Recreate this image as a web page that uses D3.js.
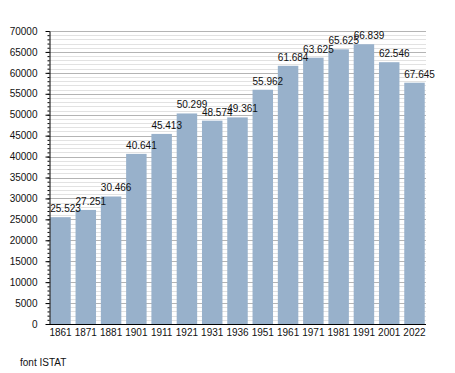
<!DOCTYPE html>
<html>
<head>
<meta charset="utf-8">
<script src="https://cdn.jsdelivr.net/npm/d3@7"></script>
<style>
  body { margin: 0; background: #fff; }
  svg { font-family: "Liberation Sans", Arial, sans-serif; }
</style>
</head>
<body>
<div id="chart"></div>
<script>
    const years = ["1861", "1871", "1881", "1901", "1911", "1921", "1931", "1936", "1951", "1961", "1971", "1981", "1991", "2001", "2022"];
    const population = [25523, 27251, 30466, 40641, 45413, 50299, 48574, 49361, 55962, 61684, 63625, 65625, 66839, 62546, 57645];
    // labels as printed in the source (last one differs from its bar)
    const labels = ["25.523", "27.251", "30.466", "40.641", "45.413", "50.299", "48.574", "49.361", "55.962", "61.684", "63.625", "65.625", "66.839", "62.546", "67.645"];
    const majorTicks = d3.range(0, 70001, 5000);
    const minorTicks = d3.range(0, 70001, 1000);

    const width = 455, height = 373;
    const margin = { left: 49, right: 29, top: 31, bottom: 49 };
    const svg = d3.select("#chart")
        .append("svg")
        .attr("width", width)
        .attr("height", height);

    const x = d3.scaleBand()
        .domain(years)
        .range([margin.left, width - margin.right])
        .paddingInner(0.19)
        .paddingOuter(0.05);
    const y = d3.scaleLinear()
        .domain([0, 70000])
        .range([height - margin.bottom, margin.top]);

    // gridlines
    svg.append("g")
        .selectAll("line")
        .data(minorTicks)
        .join("line")
        .attr("x1", margin.left)
        .attr("x2", width - margin.right)
        .attr("y1", d => Math.round(y(d)) + 0.5)
        .attr("y2", d => Math.round(y(d)) + 0.5)
        .attr("stroke", d => d % 5000 === 0 ? "#b4b4b4" : "#e2e2e2")
        .attr("stroke-width", 1);

    // bars
    svg.append("g")
        .selectAll("rect")
        .data(population)
        .join("rect")
        .attr("x", (d, i) => x(years[i]))
        .attr("width", x.bandwidth())
        .attr("y", d => y(d))
        .attr("height", d => y(0) - y(d))
        .attr("fill", "#98b1cb");

    // value labels
    svg.append("g")
        .attr("font-size", 10)
        .attr("fill", "#111")
        .selectAll("text")
        .data(population)
        .join("text")
        .attr("x", (d, i) => x(years[i]))
        .attr("y", d => y(d) - 5)
        .text((d, i) => labels[i]);

    // y axis
    svg.append("g")
        .attr("transform", `translate(${margin.left + 0.5},0)`)
        .call(d3.axisLeft(y).tickValues(minorTicks).tickSize(2).tickFormat(""))
        .call(g => g.select(".domain").remove());
    svg.append("g")
        .attr("transform", `translate(${margin.left + 0.5},0)`)
        .call(d3.axisLeft(y).tickValues(majorTicks).tickSize(4).tickSizeOuter(0).tickPadding(8).tickFormat(d3.format("d")))
        .call(g => g.selectAll("text").attr("font-size", 10).attr("fill", "#111").attr("font-family", null));

    // x axis
    svg.append("g")
        .attr("transform", `translate(0,${height - margin.bottom + 0.5})`)
        .call(d3.axisBottom(x).tickSize(0).tickSizeOuter(0).tickPadding(4))
        .call(g => g.selectAll("text").attr("font-size", 10).attr("fill", "#111").attr("font-family", null))
        .call(g => g.select(".domain").attr("d", `M${margin.left},0H${width - margin.right}`));

    svg.append("text")
        .text("font ISTAT")
        .attr("font-size", 10)
        .attr("fill", "#111")
        .attr("x", 20)
        .attr("y", 366);
</script>
</body>
</html>
